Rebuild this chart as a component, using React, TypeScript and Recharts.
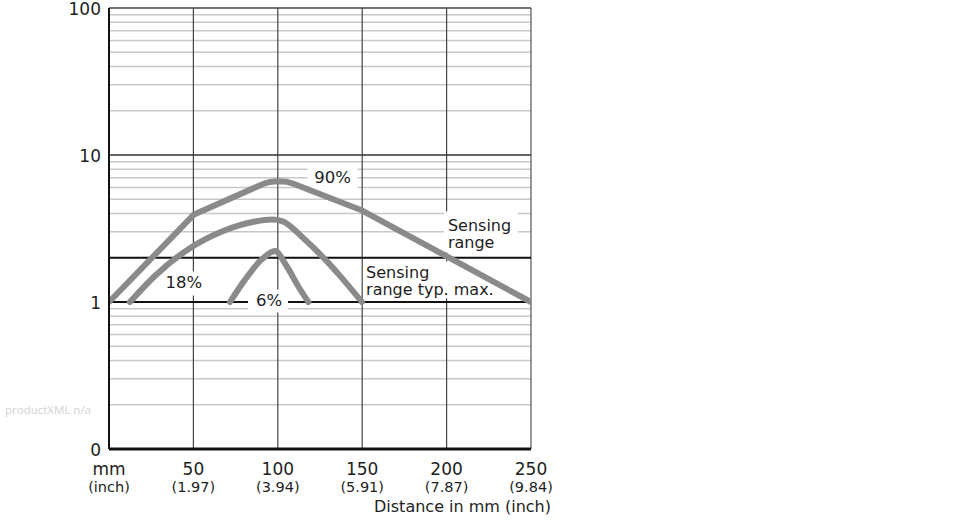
import { LineChart, Line, XAxis, YAxis, ReferenceLine, ReferenceDot } from 'recharts'

// distance in mm -> relative excess gain
const curve90 = [
  { d: 0, v: 1 }, { d: 50.4, v: 3.94 }, { d: 91, v: 6.33 }, { d: 95, v: 6.55 },
  { d: 100, v: 6.62 }, { d: 105, v: 6.58 }, { d: 108.5, v: 6.42 },
  { d: 150, v: 4.19 }, { d: 250, v: 1 },
]
const curve18 = [
  { d: 12.4, v: 1 }, { d: 27.3, v: 1.51 }, { d: 46.8, v: 2.28 }, { d: 66.9, v: 3.02 },
  { d: 86.5, v: 3.53 }, { d: 96.6, v: 3.64 }, { d: 102.5, v: 3.55 }, { d: 116, v: 2.66 },
  { d: 128, v: 1.95 }, { d: 137, v: 1.5 }, { d: 149.8, v: 1 },
]
const curve6 = [
  { d: 71.7, v: 1 }, { d: 80.6, v: 1.42 }, { d: 90.5, v: 1.95 }, { d: 98.3, v: 2.22 },
  { d: 105.3, v: 1.75 }, { d: 112.1, v: 1.28 }, { d: 118.1, v: 1 },
]

const xTicks = [0, 50, 100, 150, 200, 250]
const xTickMm = ['mm', '50', '100', '150', '200', '250']
const xTickInch = ['(inch)', '(1.97)', '(3.94)', '(5.91)', '(7.87)', '(9.84)']
const yTicks = [0.1, 1, 10, 100]
const minorGrid = [
  0.2, 0.3, 0.4, 0.5, 0.6, 0.7, 0.8, 0.9,
  3, 4, 5, 6, 7, 8, 9,
  20, 30, 40, 50, 60, 70, 80, 90,
]
const vGrid = [50, 100, 150, 200]
const sensingRange = 2
const typMax = 1

// text annotations: anchor in data units, white box around the text in px
const labels = [
  { d: 132.4, v: 7.03, lines: ['90%'], anchor: 'middle', box: [-25, -14, 50, 27] },
  { d: 44.4, v: 1.357, lines: ['18%'], anchor: 'middle', box: [-21, -11, 42, 24] },
  { d: 94.8, v: 1.024, lines: ['6%'], anchor: 'middle', box: [-21, -11, 40, 23] },
  { d: 200.8, v: 3.02, lines: ['Sensing', 'range'], anchor: 'start', box: [-4, -20, 74, 41] },
  { d: 152.3, v: 1.445, lines: ['Sensing', 'range typ. max.'], anchor: 'start', box: [-3, -17, 127, 37] },
]

const FONT = 'DejaVu Sans, sans-serif'
const CURVE = '#8a8a8a'
const TXT = '#1e1e1e'

function XTick(props: any) {
  const { x, y, payload } = props
  const i = xTicks.indexOf(payload.value)
  return (
    <g fontFamily={FONT} fill={TXT}>
      <text x={x} y={y + 24} textAnchor="middle" fontSize={17}>{xTickMm[i]}</text>
      <text x={x} y={y + 41} textAnchor="middle" fontSize={14.5}>{xTickInch[i]}</text>
    </g>
  )
}

function YTick(props: any) {
  const { x, y, payload } = props
  const v = payload.value
  return (
    <text x={x} y={y} dy={7} textAnchor="end" fontSize={17} fontFamily={FONT} fill={TXT}>
      {v < 1 ? '0' : String(v)}
    </text>
  )
}

function makeLabel(l: typeof labels[number]) {
  return (p: any) => {
    const { cx, cy } = p
    const [bx, by, bw, bh] = l.box
    const fs = l.lines.length > 1 ? 16 : 16.5
    return (
      <g>
        <rect x={cx + bx} y={cy + by} width={bw} height={bh} fill="#fff" />
        {l.lines.map((t, k) => (
          <text
            key={k}
            x={cx}
            y={l.lines.length > 1 ? cy + k * 17 : cy + fs * 0.36}
            textAnchor={l.anchor}
            fontSize={fs}
            fontFamily={FONT}
            fill={TXT}
          >
            {t}
          </text>
        ))}
      </g>
    )
  }
}

export default function App() {
  return (
    <div style={{ position: 'absolute', left: 0, top: 0, width: 970, height: 520 }}>
      <LineChart width={970} height={520} margin={{ top: 8, right: 439, left: 8, bottom: 11 }}>
        <XAxis
          dataKey="d"
          type="number"
          domain={[0, 250]}
          ticks={xTicks}
          interval={0}
          tick={<XTick />}
          tickLine={false}
          tickSize={0}
          height={60}
          axisLine={{ stroke: '#111', strokeWidth: 3 }}
          allowDataOverflow
          label={{
            content: (p: any) => {
              const vb = p.viewBox
              return (
                <text x={vb.x + vb.width + 20} y={vb.y + 63} textAnchor="end" fontSize={16} fontFamily={FONT} fill={TXT}>
                  Distance in mm (inch)
                </text>
              )
            },
          }}
        />
        <YAxis
          dataKey="v"
          scale="log"
          domain={[0.1, 100]}
          ticks={yTicks}
          interval={0}
          tick={<YTick />}
          tickLine={false}
          tickSize={0}
          tickMargin={8}
          width={101}
          axisLine={{ stroke: '#111', strokeWidth: 2 }}
          allowDataOverflow
        />
        {minorGrid.map((g) => (
          <ReferenceLine key={'m' + g} y={g} stroke="#c8c8c8" strokeWidth={1.5} zIndex={10} />
        ))}
        {vGrid.map((g) => (
          <ReferenceLine key={'v' + g} x={g} stroke="#444" strokeWidth={1.2} zIndex={20} />
        ))}
        <ReferenceLine x={250} stroke="#555" strokeWidth={1.2} zIndex={20} />
        <ReferenceLine y={100} stroke="#444" strokeWidth={1.5} zIndex={20} />
        <ReferenceLine y={10} stroke="#333" strokeWidth={1.5} zIndex={20} />
        <ReferenceLine y={sensingRange} stroke="#111" strokeWidth={2} zIndex={20} />
        <ReferenceLine y={typMax} stroke="#111" strokeWidth={2} zIndex={20} />
        {labels.map((l, i) => (
          <ReferenceDot key={'l' + i} x={l.d} y={l.v} shape={makeLabel(l)} zIndex={30} />
        ))}
        <Line data={curve90} dataKey="v" stroke={CURVE} strokeWidth={6} strokeLinecap="round" strokeLinejoin="round" dot={false} isAnimationActive={false} zIndex={400} />
        <Line data={curve18} type="monotone" dataKey="v" stroke={CURVE} strokeWidth={6} strokeLinecap="round" strokeLinejoin="round" dot={false} isAnimationActive={false} zIndex={400} />
        <Line data={curve6} type="monotone" dataKey="v" stroke={CURVE} strokeWidth={6} strokeLinecap="round" strokeLinejoin="round" dot={false} isAnimationActive={false} zIndex={400} />
      </LineChart>
      <div
        style={{
          position: 'absolute', left: 5, top: 402, fontFamily: 'Open Sans, sans-serif',
          fontSize: 11.5, color: '#d2d2d2',
        }}
      >
        productXML n/a
      </div>
    </div>
  )
}
